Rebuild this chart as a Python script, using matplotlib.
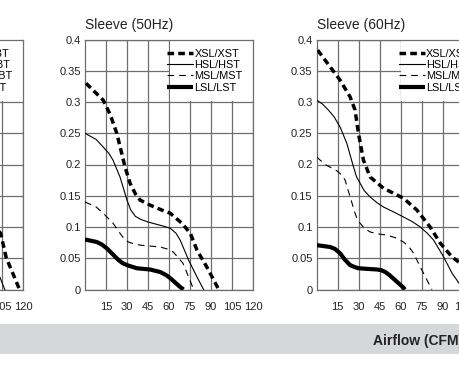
import matplotlib
matplotlib.use("Agg")
import matplotlib.pyplot as plt
from matplotlib.patches import Rectangle
from matplotlib import font_manager

names = {f.name for f in font_manager.fontManager.ttflist}
NARROW = ["Liberation Sans Narrow", "Liberation Sans", "DejaVu Sans"] if "Liberation Sans Narrow" in names else ["Liberation Sans", "DejaVu Sans"]
plt.rcParams["font.family"] = NARROW

# ---------------- data ----------------
x_ticks = [15, 30, 45, 60, 75, 90, 105, 120]
y_ticks = [0, 0.05, 0.1, 0.15, 0.2, 0.25, 0.3, 0.35, 0.4]
y_tick_labels = ["0", "0.05", "0.1", "0.15", "0.2", "0.25", "0.3", "0.35", "0.4"]

# Panel 1 (ball bearing, mostly cropped off to the left)
ball_titles = "Ball (60Hz)"
ball_labels = ["XBL/XBT", "HBL/HBT", "MBL/MBT", "LBL/LBT"]
xbl_x = [0, 15, 30, 45, 60, 75, 90, 100, 104, 108, 114, 117.5]
xbl_y = [0.36, 0.32, 0.26, 0.19, 0.16, 0.14, 0.12, 0.10, 0.09, 0.051, 0.019, 0.0]
hbl_x = [0, 15, 30, 45, 60, 75, 90, 100, 103.6, 107]
hbl_y = [0.28, 0.25, 0.17, 0.13, 0.115, 0.10, 0.07, 0.035, 0.019, 0.0]
mbl_x = [0, 15, 30, 45, 60, 75, 85, 90]
mbl_y = [0.20, 0.18, 0.11, 0.09, 0.08, 0.05, 0.02, 0.0]
lbl_x = [0, 15, 30, 45, 55, 65, 70]
lbl_y = [0.07, 0.06, 0.035, 0.032, 0.022, 0.005, 0.0]

# Panel 2: Sleeve (50Hz)
s50_title = "Sleeve (50Hz)"
sleeve_labels = ["XSL/XST", "HSL/HST", "MSL/MST", "LSL/LST"]
xsl50_x = [0.7, 13, 18, 22.7, 28.6, 32.2, 36, 39.4, 46.5, 55, 60.9, 69.2, 75.2, 80, 87, 95.5]
xsl50_y = [0.33, 0.303, 0.28, 0.25, 0.196, 0.17, 0.153, 0.143, 0.135, 0.127, 0.122, 0.106, 0.09, 0.063, 0.036, 0.0]
hsl50_x = [0, 8, 13, 17, 20, 25, 30, 32.5, 36, 40, 45, 55, 60.9, 65, 68, 74, 80, 84.7]
hsl50_y = [0.25, 0.24, 0.228, 0.218, 0.207, 0.18, 0.143, 0.128, 0.117, 0.112, 0.108, 0.102, 0.098, 0.09, 0.079, 0.047, 0.02, 0.0]
msl50_x = [0, 8, 13, 20, 25, 28, 31, 35, 39.4, 53.7, 60, 63, 70, 74, 77.6]
msl50_y = [0.14, 0.132, 0.122, 0.106, 0.09, 0.081, 0.076, 0.073, 0.071, 0.068, 0.064, 0.06, 0.042, 0.02, 0.0]
lsl50_x = [0, 8.4, 12, 15.5, 20, 24, 27, 30, 37, 46.5, 53.7, 58, 61, 65, 68, 70.4]
lsl50_y = [0.08, 0.076, 0.072, 0.066, 0.056, 0.047, 0.042, 0.039, 0.034, 0.032, 0.028, 0.023, 0.018, 0.01, 0.004, 0.0]

# Panel 3: Sleeve (60Hz)
s60_title = "Sleeve (60Hz)"
xsl60_x = [0.7, 7, 16.7, 23.9, 27.4, 29.8, 33.4, 38.2, 47.7, 62, 71.6, 81, 88.3, 96.7, 102.6, 110, 115]
xsl60_y = [0.383, 0.364, 0.335, 0.308, 0.287, 0.25, 0.207, 0.18, 0.162, 0.146, 0.127, 0.1, 0.074, 0.052, 0.042, 0.02, 0.0]
hsl60_x = [0, 4, 8.4, 12.5, 16.7, 21.5, 26.3, 28.5, 31, 34, 38.2, 43, 47.7, 55, 62, 68, 74, 79, 83.5, 90.7, 96.7, 102.6, 105]
hsl60_y = [0.303, 0.297, 0.287, 0.276, 0.26, 0.234, 0.196, 0.18, 0.17, 0.158, 0.148, 0.139, 0.132, 0.124, 0.116, 0.109, 0.1, 0.09, 0.079, 0.052, 0.026, 0.007, 0.0]
msl60_x = [0, 6, 14.3, 18, 20.3, 23.9, 27.4, 29, 31, 34, 38.2, 44, 50, 56, 62, 66, 69.2, 74, 78.8, 82.3]
msl60_y = [0.212, 0.2, 0.19, 0.183, 0.175, 0.148, 0.122, 0.112, 0.106, 0.098, 0.092, 0.089, 0.087, 0.083, 0.076, 0.068, 0.058, 0.036, 0.015, 0.0]
lsl60_x = [0, 9.5, 13, 16.7, 20, 23.9, 27, 29.8, 36, 43, 46, 49, 52, 56, 60, 62, 63]
lsl60_y = [0.071, 0.068, 0.065, 0.058, 0.048, 0.039, 0.036, 0.034, 0.033, 0.032, 0.031, 0.028, 0.023, 0.015, 0.007, 0.003, 0.0]

band_text = "Airflow (CFM)"

# ---------------- styles ----------------
styles = [
    dict(color="black", lw=2.5, linestyle=(0, (1.9, 1.2)), solid_capstyle="butt", dash_capstyle="butt"),
    dict(color="black", lw=0.8, linestyle="-"),
    dict(color="black", lw=0.8, linestyle=(0, (6, 4.5)), dash_capstyle="butt"),
    dict(color="black", lw=3.0, linestyle="-", solid_capstyle="butt"),
]
GRID = "#6e6e6e"

fig = plt.figure(figsize=(4.6, 3.75), dpi=100)
fig.patch.set_facecolor("white")

W = 168 / 460
H = 250 / 375
BOT = (375 - 289.5) / 375
lefts = [-145 / 460, 85 / 460, 316.7 / 460]

panels = [
    (ball_titles, ball_labels, [(xbl_x, xbl_y), (hbl_x, hbl_y), (mbl_x, mbl_y), (lbl_x, lbl_y)]),
    (s50_title, sleeve_labels, [(xsl50_x, xsl50_y), (hsl50_x, hsl50_y), (msl50_x, msl50_y), (lsl50_x, lsl50_y)]),
    (s60_title, sleeve_labels, [(xsl60_x, xsl60_y), (hsl60_x, hsl60_y), (msl60_x, msl60_y), (lsl60_x, lsl60_y)]),
]

for left, (title, labels, series) in zip(lefts, panels):
    ax = fig.add_axes([left, BOT, W, H])
    ax.set_xlim(0, 120)
    ax.set_ylim(0, 0.4)
    ax.set_xticks(x_ticks)
    ax.set_yticks(y_ticks)
    ax.set_yticklabels(y_tick_labels)
    ax.tick_params(axis="both", length=0, labelsize=8, colors="#222222")
    ax.tick_params(axis="x", pad=9)
    ax.tick_params(axis="y", pad=3)
    ax.set_axisbelow(True)
    ax.grid(True, color=GRID, lw=0.9)
    for sp in ax.spines.values():
        sp.set_color(GRID)
        sp.set_linewidth(0.9)
    # white legend area covering upper-right grid cells
    ax.add_patch(Rectangle((0.503, 0.753), 0.5, 0.25, transform=ax.transAxes,
                           facecolor="white", edgecolor="none", zorder=1))
    handles = []
    for (xs, ys), st, lab in zip(series, styles, labels):
        h, = ax.plot(xs, ys, label=lab, zorder=3, **st)
        handles.append(h)
    ax.legend(handles=handles, loc="upper right", bbox_to_anchor=(0.97, 0.985),
              frameon=False, fontsize=7.8, handlelength=2.4, handletextpad=0.1,
              labelspacing=0.12, borderaxespad=0.2, borderpad=0.3)
    ax.text(0.0, 1.03, title, transform=ax.transAxes, ha="left", va="bottom",
            fontsize=10, color="#222222")

# grey band with axis label
fig.patches.append(Rectangle((0, 21 / 375), 1, 30 / 375, transform=fig.transFigure,
                             facecolor="#d6d7d9", edgecolor="none", zorder=0))
fig.text(463 / 460, 0.0915, band_text, ha="right", va="center", fontsize=10,
         fontweight="bold", color="#222222")

fig.savefig("out.png", dpi=100, facecolor="white")
